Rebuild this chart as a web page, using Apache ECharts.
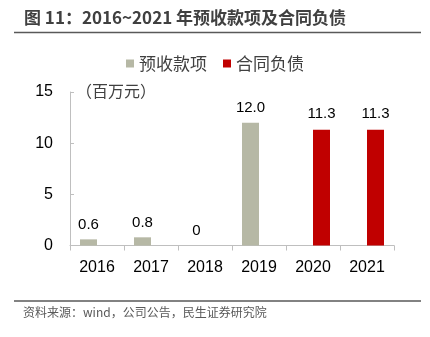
<!DOCTYPE html>
<html>
<head>
<meta charset="utf-8">
<script src="https://cdn.jsdelivr.net/npm/echarts@6/dist/echarts.min.js"></script>
<style>html,body{margin:0;padding:0;background:#fff;}#c{width:430px;height:337px;}</style>
</head>
<body>
<div id="c"></div>
<script>
const categories = ['2016','2017','2018','2019','2020','2021'];
const advanceReceipts = [0.6, 0.8, 0, 12.0, null, null];
const contractLiabilities = [null, null, null, null, 11.3, 11.3];
const yTicks = [0, 5, 10, 15];
const seriesNames = ['预收款项', '合同负债'];

const chart = echarts.init(document.getElementById('c'));
const numFont = '"Liberation Sans", Arial, sans-serif';
const cjkFont = '"Noto Sans CJK SC", sans-serif';
chart.setOption({
  animation: false,
  backgroundColor: '#fff',
  title: {
    text: '图 11：2016~2021 年预收款项及合同负债',
    left: 19, top: 4,
    textStyle: {fontFamily: cjkFont, fontSize: 17, fontWeight: 'bold', color: '#404040'}
  },
  legend: {
    data: seriesNames,
    top: 50, left: 'center',
    itemWidth: 8, itemHeight: 8, itemGap: 16,
    icon: 'rect',
    textStyle: {fontFamily: cjkFont, fontSize: 17, color: '#404040', padding: [0,0,0,0]}
  },
  grid: {left: 70, right: 36, top: 92, bottom: 91.5, containLabel: false},
  xAxis: {
    type: 'category', data: categories,
    axisLine: {lineStyle: {color: '#bfbfbf', width: 1}},
    axisTick: {show: true, length: 5, lineStyle: {color: '#bfbfbf'}},
    axisLabel: {fontFamily: numFont, fontSize: 16, color: '#000', margin: 14}
  },
  yAxis: {
    type: 'value', min: yTicks[0], max: yTicks[yTicks.length-1], interval: 5,
    axisLine: {show: true, lineStyle: {color: '#bfbfbf', width: 1}},
    axisTick: {show: true, inside: true, length: 4, lineStyle: {color: '#bfbfbf'}},
    splitLine: {show: false},
    axisLabel: {fontFamily: numFont, fontSize: 16, color: '#000', margin: 17}
  },
  graphic: [
    {type: 'line', shape: {x1: 14, y1: 32.5, x2: 421, y2: 32.5}, style: {stroke: '#595959', lineWidth: 1.5}},
    {type: 'line', shape: {x1: 14, y1: 301, x2: 421, y2: 301}, style: {stroke: '#595959', lineWidth: 1.5}},
    {type: 'text', left: 23, top: 306, style: {text: '资料来源：wind，公司公告，民生证券研究院', font: '12px "Noto Sans CJK SC", sans-serif', fill: '#595959'}},
    {type: 'text', left: 76, top: 83, style: {text: '（百万元）', font: '16px "Noto Sans CJK SC", sans-serif', fill: '#404040'}}
  ],
  series: [
    {
      name: seriesNames[0], type: 'bar', data: advanceReceipts,
      barWidth: 17, barGap: '0%',
      itemStyle: {color: '#B6B8A5'},
      label: {show: true, position: 'top', distance: 7, fontFamily: numFont, fontSize: 15, color: '#000',
        formatter: p => p.value == null ? '' : (p.value === 0 ? '0' : p.value.toFixed(1))}
    },
    {
      name: seriesNames[1], type: 'bar', data: contractLiabilities,
      barWidth: 17, barGap: '0%',
      itemStyle: {color: '#C00000'},
      label: {show: true, position: 'top', distance: 9, fontFamily: numFont, fontSize: 15, color: '#000',
        formatter: p => p.value == null ? '' : p.value.toFixed(1)}
    }
  ]
});
</script>
</body>
</html>
